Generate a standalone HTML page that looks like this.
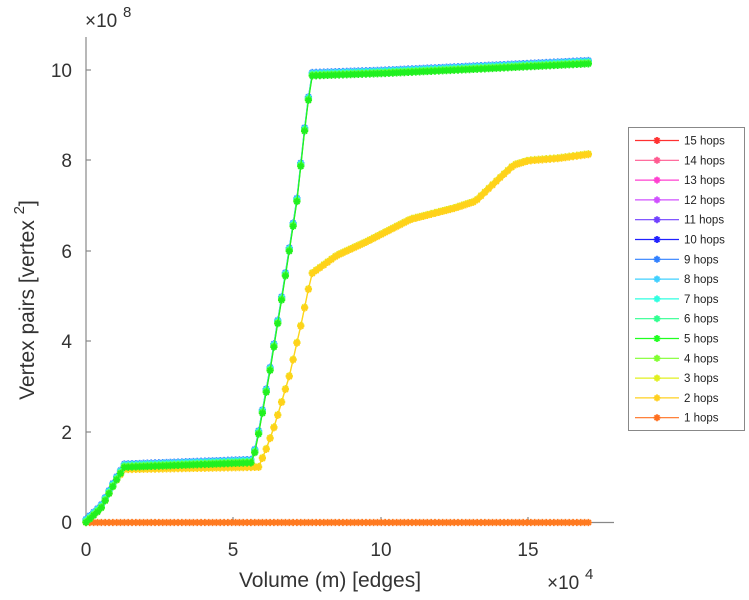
<!DOCTYPE html>
<html><head><meta charset="utf-8"><style>
body{margin:0;background:#fff;}
svg{display:block;font-family:"Liberation Sans",sans-serif;}
</style></head><body>
<svg id="s" width="749" height="600" viewBox="0 0 749 600">
<g stroke="#888" stroke-width="1.2" fill="none">
<line x1="86" y1="37" x2="86" y2="522.5"/>
<line x1="86" y1="522.5" x2="614" y2="522.5"/>
<line x1="86" y1="432" x2="91" y2="432"/><line x1="86" y1="341" x2="91" y2="341"/>
<line x1="86" y1="251" x2="91" y2="251"/><line x1="86" y1="160" x2="91" y2="160"/>
<line x1="86" y1="70" x2="91" y2="70"/>
<line x1="233" y1="522" x2="233" y2="517"/><line x1="381" y1="522" x2="381" y2="517"/><line x1="528" y1="522" x2="528" y2="517"/>
</g>
<g fill="#333" font-size="19" text-anchor="end">
<text x="72" y="529">0</text><text x="72" y="439">2</text><text x="72" y="348">4</text>
<text x="72" y="258">6</text><text x="72" y="167">8</text><text x="72" y="77">10</text>
</g>
<g fill="#333" font-size="19" text-anchor="middle">
<text x="86" y="556">0</text><text x="233" y="556">5</text><text x="381" y="556">10</text><text x="528" y="556">15</text>
<text x="330" y="587" font-size="21">Volume (m) [edges]</text>
</g>
<text x="85" y="27" fill="#333" font-size="19">×10</text><text x="123" y="17" fill="#333" font-size="15">8</text>
<text x="547" y="589" fill="#333" font-size="19">×10</text><text x="585" y="579" fill="#333" font-size="15">4</text>
<text transform="translate(34,300) rotate(-90)" fill="#333" font-size="21" text-anchor="middle">Vertex pairs [vertex <tspan dy="-10" font-size="15">2</tspan><tspan dy="10">]</tspan></text>
<g id="d"></g>
<rect x="628.5" y="127.5" width="116" height="303" fill="#fff" stroke="#888"/>
<g id="lg" font-size="11.5" fill="#222"></g>
</svg>
<script>
var NS="http://www.w3.org/2000/svg";
function X(v){return 86+v*29.5}function Y(v){return 522.5-v*45.2}
var G=[[0,0],[0.5,0.3],[1,0.9],[1.3,1.22],[5.6,1.32],[5.75,1.6],[6.2,3.2],[6.7,5.2],[7.15,7.1],[7.45,8.9],[7.65,9.88],[10,9.93],[13,10.02],[17.15,10.15]];
var Yl=[[0,0],[0.5,0.3],[1,0.9],[1.3,1.17],[5.85,1.22],[6.1,1.6],[6.4,2.15],[6.9,3.25],[7.3,4.4],[7.65,5.5],[8.5,5.9],[9.5,6.2],[11,6.7],[12.5,6.95],[13.2,7.1],[14,7.6],[14.5,7.9],[15,8.0],[16,8.05],[17.15,8.15]];
var O=[[0,0],[17.15,0]];
function interp(p,x){for(var i=1;i<p.length;i++){if(x<=p[i][0]){var a=p[i-1],b=p[i];return a[1]+(b[1]-a[1])*(x-a[0])/(b[0]-a[0]);}}return p[p.length-1][1];}
var d=document.getElementById('d');
function el(t,a,par){var e=document.createElementNS(NS,t);for(var k in a)e.setAttribute(k,a[k]);(par||d).appendChild(e);return e;}
function star(x,y,c,r,par){el('path',{d:'M'+(x-r)+' '+y+'H'+(x+r)+'M'+x+' '+(y-r)+'V'+(y+r)+'M'+(x-r*.7)+' '+(y-r*.7)+'L'+(x+r*.7)+' '+(y+r*.7)+'M'+(x-r*.7)+' '+(y+r*.7)+'L'+(x+r*.7)+' '+(y-r*.7),stroke:c,'stroke-width':1.8,fill:'none'},par);}
function series(p,c,off){var pts=[],s='';for(var x=0;x<=17.16;x+=0.13){var y=interp(p,x)+off;pts.push([X(x),Y(y)]);}
pts.forEach(function(q,i){s+=(i?'L':'M')+q[0].toFixed(1)+' '+q[1].toFixed(1);});
el('path',{d:s,stroke:c,'stroke-width':1.2,fill:'none'});pts.forEach(function(q){star(q[0],q[1],c,3.6);});}
series(O,'#ff7a20',0);
series(Yl,'#e8e820',0.02);series(Yl,'#ffd21a',0);
var gc=['#3080ff','#40d0ff','#30ffe0','#30ff90','#80ff30','#20f020'];
gc.forEach(function(c,i){series(G,c,0.015*(5-i));});
var names=[['15 hops','#ff3030'],['14 hops','#ff5a90'],['13 hops','#ff40d0'],['12 hops','#d050ff'],['11 hops','#7040ff'],['10 hops','#2020ff'],['9 hops','#3080ff'],['8 hops','#40d0ff'],['7 hops','#30ffe0'],['6 hops','#30ff90'],['5 hops','#20ff20'],['4 hops','#80ff30'],['3 hops','#e0f020'],['2 hops','#ffd020'],['1 hops','#ff7020']];
var lg=document.getElementById('lg');
names.forEach(function(n,i){var y=140.5+i*19.8;el('line',{x1:635,y1:y,x2:679,y2:y,stroke:n[1],'stroke-width':1.2},lg);star(657,y,n[1],3.5,lg);var t=el('text',{x:684,y:y+4},lg);t.textContent=n[0];});
</script>
</body></html>
